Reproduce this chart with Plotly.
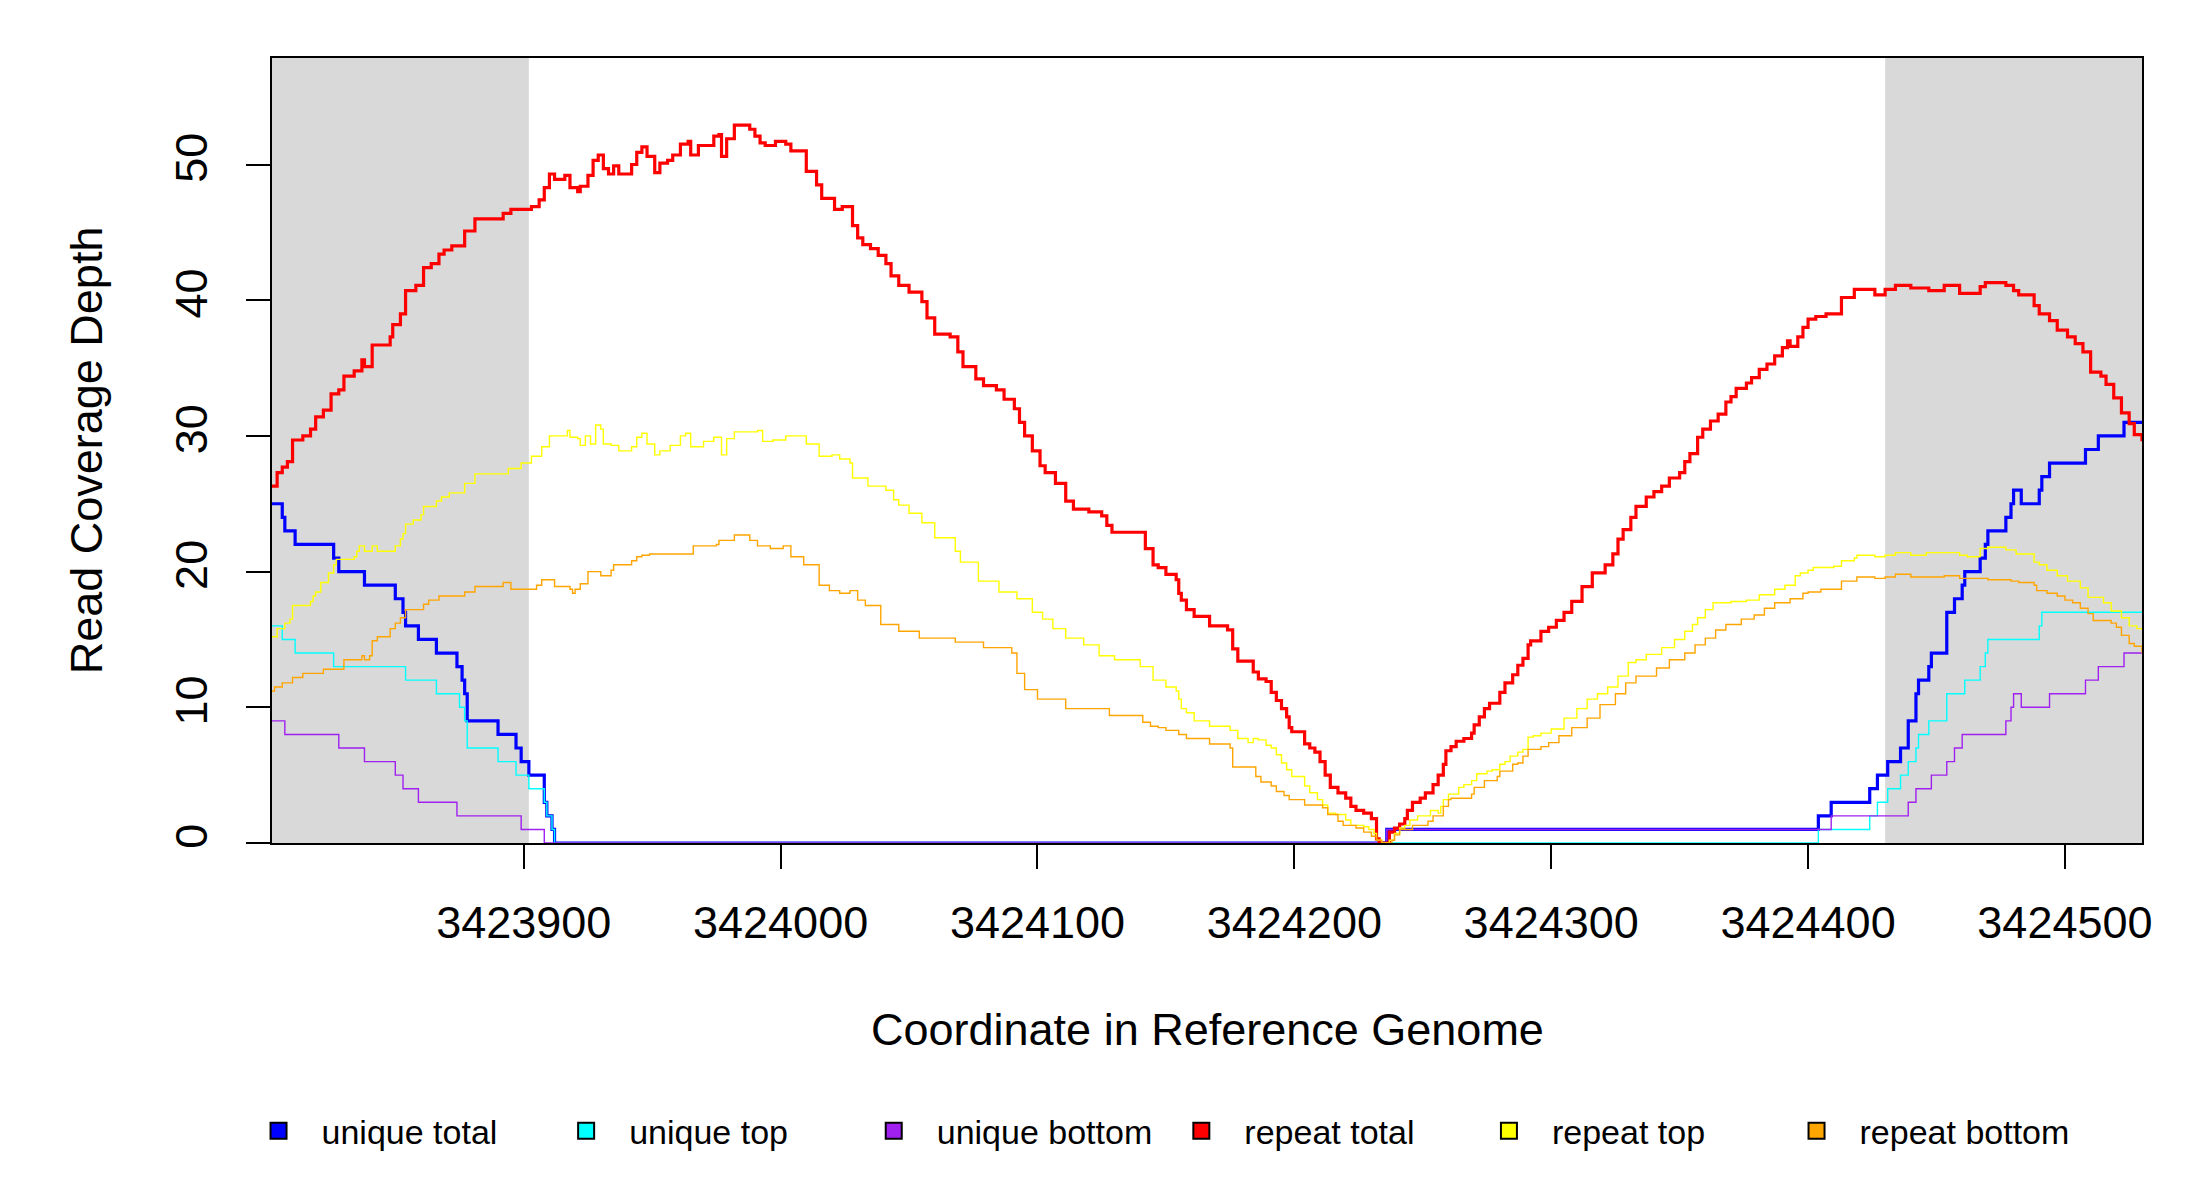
import plotly.graph_objects as go

# genome coordinates are stored as offsets from this position
origin = 3423800

# unique reads (integer depths), step breakpoints
unique_total_pos = [2, 6, 7, 11, 26, 28, 38, 50, 53, 54, 59, 66, 74, 76, 77, 78, 90, 97, 99, 102,
                    108, 109, 111, 112, 436, 604, 609, 624, 627, 631, 636, 639, 642, 643, 647, 648,
                    654, 657, 660, 661, 667, 669, 670, 677, 679, 680, 683, 690, 691, 694, 708, 713,
                    723, 730]
unique_total = [25, 24, 23, 22, 21, 20, 19, 18, 17, 16, 15, 14, 13, 12, 11, 9, 8, 7, 6, 5,
                3, 2, 1, 0, 1, 2, 3, 4, 5, 6, 7, 9, 11, 12, 13, 14,
                17, 18, 19, 20, 21, 22, 23, 24, 25, 26, 25, 26, 27, 28, 29, 30,
                31, 31]

unique_top_pos = [2, 6, 11, 26, 54, 66, 75, 77, 78, 90, 97, 102, 108, 109, 111, 112, 604, 624,
                  627, 631, 636, 639, 642, 643, 647, 654, 661, 667, 669, 670, 690, 691, 730]
unique_top = [16, 15, 14, 13, 12, 11, 10, 9, 7, 6, 5, 4, 3, 2, 1, 0, 1, 2,
              3, 4, 5, 6, 7, 8, 9, 11, 12, 13, 14, 15, 16, 17, 17]

unique_bottom_pos = [2, 7, 28, 38, 50, 53, 59, 74, 99, 108, 436, 609, 639, 642, 648, 654, 657,
                     660, 677, 679, 680, 683, 694, 708, 713, 723, 730]
unique_bottom = [9, 8, 7, 6, 5, 4, 3, 2, 1, 0, 1, 2, 3, 4, 5, 6, 7,
                 8, 9, 10, 11, 10, 11, 12, 13, 14, 14]

# repeat reads (fractional depths)
repeat_total_pos = [2, 4, 6, 8, 10, 14, 17, 19, 22, 25, 28, 30, 34, 37, 38, 41, 48, 49, 52, 54,
                    58, 61, 64, 67, 69, 72, 77, 81, 92, 95, 103, 106, 108, 110, 112, 116, 118, 121,
                    122, 125, 127, 129, 131, 133, 135, 137, 142, 144, 146, 148, 151, 153, 156, 158,
                    161, 164, 165, 168, 174, 176, 177, 179, 182, 188, 190, 192, 194, 198, 202, 204,
                    210, 214, 216, 221, 224, 228, 230, 232, 235, 238, 241, 243, 246, 250, 255, 257,
                    260, 266, 269, 271, 276, 279, 284, 287, 291, 293, 295, 298, 301, 303, 307, 311,
                    314, 320, 325, 327, 329, 342, 345, 347, 350, 354, 355, 356, 358, 361, 367, 374,
                    376, 378, 384, 386, 389, 391, 393, 395, 397, 398, 399, 404, 406, 408, 410, 412,
                    414, 417, 420, 422, 424, 427, 430, 432, 433, 437, 439, 441, 443, 444, 446, 449,
                    451, 454, 456, 458, 459, 461, 463, 466, 469, 470, 472, 474, 476, 480, 482, 485,
                    487, 489, 491, 492, 496, 499, 502, 505, 508, 512, 516, 521, 524, 526, 528, 531,
                    533, 537, 540, 543, 546, 550, 552, 554, 557, 559, 562, 565, 568, 570, 572, 576,
                    578, 581, 584, 587, 590, 592, 593, 596, 598, 600, 603, 607, 613, 618, 626, 630,
                    634, 640, 647, 653, 659, 667, 669, 677, 680, 682, 688, 690, 694, 697, 701, 704,
                    707, 710, 714, 716, 719, 722, 725, 727, 730]
repeat_total = [26.3, 27.3, 27.7, 28.1, 29.7, 30.0, 30.5, 31.4, 31.9, 33.1, 33.4, 34.4, 34.8, 35.6,
                35.1, 36.7, 37.3, 38.2, 39.0, 40.7, 41.1, 42.4, 42.7, 43.4, 43.7, 44.0, 45.1, 46.0,
                46.4, 46.7, 46.9, 47.4, 48.3, 49.3, 48.9, 49.2, 48.3, 48.0, 48.4, 49.2, 50.3, 50.7,
                49.7, 49.3, 49.9, 49.3, 50.0, 50.9, 51.3, 50.6, 49.4, 50.1, 50.3, 50.7, 51.5, 51.7,
                50.7, 51.4, 52.1, 52.2, 50.6, 51.9, 52.9, 52.6, 52.1, 51.6, 51.4, 51.7, 51.5, 51.0,
                49.5, 48.5, 47.5, 46.7, 46.9, 45.5, 44.6, 44.1, 43.8, 43.3, 42.7, 41.8, 41.1, 40.6,
                39.9, 38.7, 37.5, 37.3, 36.2, 35.1, 34.2, 33.7, 33.4, 32.7, 32.0, 31.0, 30.0, 28.9,
                27.8, 27.3, 26.5, 25.2, 24.6, 24.4, 24.1, 23.4, 22.9, 21.7, 20.5, 20.3, 19.8, 19.4,
                18.4, 17.9, 17.2, 16.7, 16.0, 15.7, 14.3, 13.4, 12.6, 12.1, 11.9, 11.1, 10.5, 9.9,
                9.3, 8.5, 8.2, 7.3, 7.0, 6.7, 6.0, 5.0, 4.1, 3.7, 3.3, 2.7, 2.4, 2.2, 1.8, 0.3,
                0.0, 0.8, 1.1, 1.4, 1.8, 2.4, 3.0, 3.3, 3.7, 4.3, 5.0, 5.8, 6.8, 7.1, 7.5, 7.7,
                8.1, 8.7, 9.3, 9.9, 10.3, 11.1, 11.8, 12.4, 13.1, 13.6, 14.6, 14.9, 15.6, 15.9,
                16.4, 17.0, 17.8, 18.9, 19.9, 20.5, 21.3, 22.4, 23.1, 24.0, 24.8, 25.5, 25.9,
                26.3, 26.9, 27.3, 28.1, 28.7, 29.9, 30.5, 31.1, 31.6, 32.5, 32.9, 33.5, 33.9,
                34.3, 34.9, 35.3, 35.9, 36.5, 37.0, 36.6, 37.3, 38.0, 38.6, 38.8, 39.0, 40.2,
                40.8, 40.4, 40.8, 41.1, 40.9, 40.7, 41.1, 40.5, 41.0, 41.3, 41.1, 40.7, 40.4,
                39.6, 39.0, 38.5, 37.8, 37.3, 36.8, 36.2, 34.7, 34.4, 33.8, 32.8, 31.7, 30.9,
                30.1, 29.6]

repeat_top_pos = [2, 4, 7, 9, 10, 17, 18, 19, 21, 24, 26, 27, 34, 35, 36, 38, 41, 43, 50, 52,
                  53, 54, 57, 60, 61, 66, 68, 71, 77, 81, 94, 99, 103, 107, 110, 117, 118, 121,
                  122, 124, 126, 128, 130, 131, 134, 137, 142, 144, 146, 148, 151, 153, 157, 161,
                  163, 165, 170, 174, 177, 179, 182, 191, 193, 197, 202, 210, 215, 220, 223, 227,
                  228, 234, 241, 244, 246, 250, 255, 260, 268, 270, 277, 285, 292, 298, 302, 306,
                  311, 318, 324, 330, 340, 345, 350, 354, 355, 356, 358, 361, 367, 375, 378, 382,
                  384, 386, 389, 391, 393, 395, 397, 399, 404, 406, 409, 411, 413, 416, 420, 422,
                  427, 429, 431, 432, 434, 437, 439, 441, 443, 445, 448, 453, 456, 457, 458, 460,
                  464, 466, 469, 471, 475, 477, 480, 482, 484, 487, 489, 491, 493, 496, 500, 505,
                  510, 514, 518, 522, 526, 530, 533, 537, 543, 548, 552, 555, 557, 560, 563, 570,
                  576, 581, 587, 591, 595, 597, 600, 602, 610, 613, 618, 619, 626, 630, 634, 640,
                  646, 659, 662, 667, 670, 677, 681, 688, 690, 693, 697, 701, 706, 709, 715, 718,
                  722, 725, 728, 730]
repeat_top = [15.2, 15.8, 16.2, 16.5, 17.5, 17.8, 18.2, 18.5, 19.2, 19.9, 20.5, 20.9, 21.1, 21.5,
              21.9, 21.5, 21.9, 21.5, 21.9, 22.4, 22.8, 23.5, 23.8, 24.2, 24.8, 25.2, 25.5, 25.8,
              26.5, 27.2, 27.6, 28.0, 28.5, 29.2, 30.0, 30.4, 29.9, 29.8, 29.3, 30.0, 29.4, 30.8,
              30.5, 29.4, 29.3, 28.9, 29.2, 29.9, 30.2, 29.4, 28.6, 28.9, 29.3, 30.0, 30.2, 29.2,
              29.6, 29.9, 28.6, 29.8, 30.3, 30.4, 29.6, 29.7, 30.0, 29.4, 28.5, 28.6, 28.3, 28.0,
              26.9, 26.3, 26.0, 25.3, 24.9, 24.3, 23.6, 22.5, 21.5, 20.7, 19.3, 18.5, 18.0, 17.0,
              16.5, 15.8, 15.1, 14.6, 13.8, 13.5, 13.0, 12.0, 11.5, 11.2, 10.6, 9.9, 9.6, 9.0,
              8.6, 8.3, 7.7, 7.4, 7.7, 7.6, 7.2, 7.0, 6.5, 5.9, 5.4, 4.9, 4.2, 3.7, 3.2, 2.8,
              2.2, 2.1, 1.7, 1.3, 1.2, 1.0, 0.7, 0.2, 0.0, 0.2, 0.7, 1.1, 1.3, 1.7, 2.0, 2.4,
              2.2, 2.7, 3.2, 3.6, 4.1, 4.3, 4.6, 5.1, 5.3, 5.4, 5.8, 6.0, 6.4, 6.7, 6.9, 7.8,
              7.9, 8.1, 8.4, 9.2, 9.9, 10.6, 11.0, 11.5, 12.3, 13.3, 13.5, 13.9, 14.4, 15.0,
              15.6, 16.1, 16.6, 17.2, 17.7, 17.8, 17.9, 18.3, 18.7, 19.0, 19.7, 19.9, 20.1,
              20.3, 20.4, 20.8, 21.0, 21.2, 21.1, 21.2, 21.4, 21.2, 21.4, 21.2, 21.1, 21.7,
              21.8, 21.6, 21.3, 20.7, 20.5, 20.1, 19.7, 19.3, 18.8, 18.1, 17.7, 17.1, 16.6,
              16.0, 15.8, 15.7]

repeat_bottom_pos = [2, 3, 6, 10, 14, 22, 30, 37, 38, 40, 41, 43, 48, 50, 52, 54, 61, 63, 67, 77,
                     81, 92, 95, 105, 107, 112, 118, 119, 120, 122, 125, 130, 134, 135, 142, 144,
                     146, 149, 166, 175, 176, 182, 188, 191, 196, 201, 204, 209, 215, 219, 223,
                     227, 230, 233, 239, 246, 254, 268, 279, 290, 292, 295, 300, 311, 328, 341,
                     344, 347, 350, 355, 358, 367, 375, 376, 385, 387, 391, 393, 396, 398, 404,
                     411, 413, 417, 419, 424, 427, 430, 432, 434, 438, 439, 441, 446, 452, 454,
                     458, 460, 461, 469, 470, 474, 479, 480, 485, 487, 489, 491, 496, 499, 503,
                     508, 514, 519, 525, 529, 533, 541, 546, 552, 556, 560, 564, 568, 574, 579,
                     583, 587, 593, 598, 600, 605, 613, 619, 626, 630, 634, 640, 653, 659, 670,
                     679, 682, 688, 689, 693, 697, 700, 703, 706, 709, 711, 718, 720, 722, 725,
                     727, 730]
repeat_bottom = [11.2, 11.5, 11.8, 12.2, 12.5, 12.8, 13.5, 13.8, 13.5, 13.8, 14.9, 15.2, 15.8,
                 16.2, 16.6, 17.2, 17.6, 17.9, 18.2, 18.5, 18.9, 19.2, 18.7, 19.0, 19.4, 18.9,
                 18.7, 18.4, 18.7, 19.1, 20.0, 19.7, 20.1, 20.5, 20.8, 21.1, 21.2, 21.3, 21.9,
                 22.0, 22.3, 22.7, 22.3, 21.9, 21.7, 21.9, 21.1, 20.5, 19.0, 18.6, 18.4, 18.6,
                 17.9, 17.5, 16.1, 15.6, 15.1, 14.8, 14.4, 14.0, 12.5, 11.3, 10.6, 9.9, 9.4,
                 8.9, 8.6, 8.5, 8.3, 8.0, 7.7, 7.3, 7.0, 5.6, 4.9, 4.5, 4.2, 3.8, 3.5, 3.2, 2.8,
                 2.6, 2.1, 1.6, 1.3, 1.1, 0.8, 0.5, 0.2, 0.0, 0.2, 0.6, 1.0, 1.3, 1.6, 2.0, 2.7,
                 3.2, 3.3, 3.6, 4.1, 4.6, 4.9, 5.3, 5.8, 5.9, 6.4, 6.9, 7.1, 7.4, 7.9, 8.5, 9.2,
                 10.2, 11.0, 11.8, 12.3, 12.9, 13.5, 14.0, 14.6, 15.1, 15.7, 16.1, 16.5, 16.8,
                 17.3, 17.7, 18.0, 18.4, 18.5, 18.7, 19.3, 19.6, 19.5, 19.6, 19.8, 19.6, 19.7,
                 19.5, 19.4, 19.3, 19.2, 19.0, 18.6, 18.4, 18.2, 17.9, 17.7, 17.3, 16.9, 16.4,
                 16.2, 15.9, 15.3, 14.7, 14.5, 14.0]

# shaded flanks (first and last 100 bp)
shade_ranges = [(2, 102), (630, 730)]
x_ticks = [3423900, 3424000, 3424100, 3424200, 3424300, 3424400, 3424500]
y_ticks = [0, 10, 20, 30, 40, 50]

series = [
    ("unique total", unique_total_pos, unique_total, "#0000FF", 3.2),
    ("unique top", unique_top_pos, unique_top, "#00FFFF", 1.4),
    ("unique bottom", unique_bottom_pos, unique_bottom, "#A020F0", 1.4),
    ("repeat total", repeat_total_pos, repeat_total, "#FF0000", 3.2),
    ("repeat top", repeat_top_pos, repeat_top, "#FFFF00", 1.4),
    ("repeat bottom", repeat_bottom_pos, repeat_bottom, "#FFA500", 1.4),
]

font = "Liberation Sans, Arial, sans-serif"

fig = go.Figure()

for name, pos, vals, color, width in series:
    fig.add_trace(go.Scatter(
        x=[origin + p for p in pos], y=vals,
        mode="lines", line=dict(color=color, width=width, shape="hv"),
        showlegend=False, hoverinfo="skip"))

# legend entries drawn as filled squares, like R's legend(fill=...)
for name, pos, vals, color, width in series:
    fig.add_trace(go.Scatter(
        x=[None], y=[None], mode="markers", name=name,
        marker=dict(symbol="square", size=16, color=color,
                    line=dict(color="black", width=2))))

for a, b in shade_ranges:
    fig.add_shape(type="rect", xref="x", yref="paper",
                  x0=origin + a, x1=origin + b, y0=0, y1=1,
                  fillcolor="#D9D9D9", line_width=0, layer="below")

fig.update_xaxes(
    range=[origin + 2, origin + 730], tickvals=x_ticks,
    ticktext=[str(t) for t in x_ticks],
    showgrid=False, zeroline=False,
    showline=True, mirror=True, linecolor="black", linewidth=2,
    ticks="outside", ticklen=24, tickwidth=2, tickcolor="black",
    ticklabelstandoff=15,
    tickfont=dict(family=font, size=45, color="black"))

fig.update_yaxes(
    range=[0, 57.85], tickvals=y_ticks,
    showgrid=False, zeroline=False,
    showline=True, mirror=True, linecolor="black", linewidth=2,
    ticks="outside", ticklen=24, tickwidth=2, tickcolor="black",
    tickangle=-90, ticklabelstandoff=21,
    tickfont=dict(family=font, size=45, color="black"))

fig.add_annotation(text="Coordinate in Reference Genome", xref="paper", yref="paper",
                   x=0.5, y=-0.238, xanchor="center", yanchor="middle", showarrow=False,
                   font=dict(family=font, size=45, color="black"))
fig.add_annotation(text="Read Coverage Depth", xref="paper", yref="paper",
                   x=-0.099, y=0.5, xanchor="center", yanchor="middle",
                   textangle=-90, showarrow=False,
                   font=dict(family=font, size=45, color="black"))

# the page body adds an 8 px offset, so the margins are shifted to compensate
fig.update_layout(
    width=2200, height=1200,
    margin=dict(l=264, r=66, t=50, b=365),
    paper_bgcolor="white", plot_bgcolor="white",
    legend=dict(orientation="h", x=-0.0195, y=-0.367, xanchor="left", yanchor="middle",
                itemwidth=76, entrywidth=216.6, entrywidthmode="pixels",
                font=dict(family=font, size=34, color="black"),
                bgcolor="rgba(0,0,0,0)"),
)

fig.write_html("out.html")
